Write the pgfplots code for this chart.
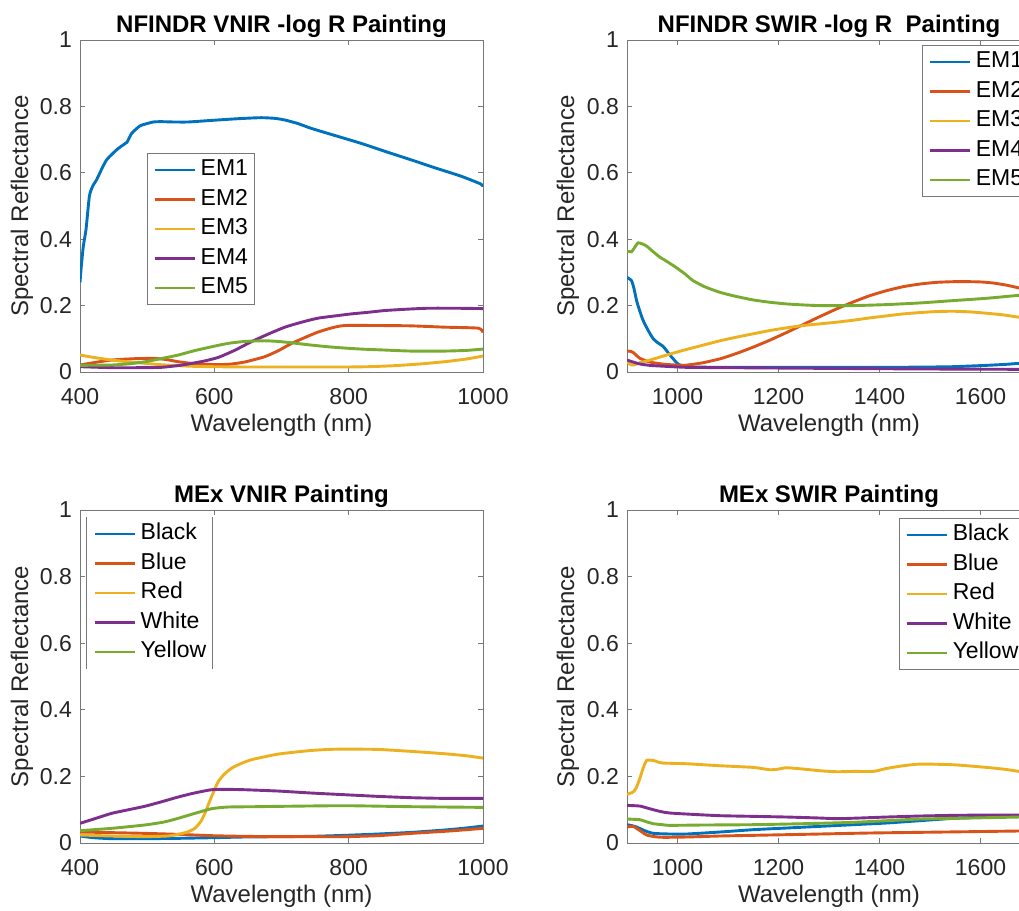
\documentclass[border=0pt]{standalone}
\usepackage{fontspec}
\setmainfont{Liberation Sans}
\usepackage{pgfplots}
\pgfplotsset{compat=1.18}
\definecolor{mB}{RGB}{0,114,189}
\definecolor{mO}{RGB}{217,83,25}
\definecolor{mY}{RGB}{237,177,32}
\definecolor{mP}{RGB}{126,47,142}
\definecolor{mG}{RGB}{119,172,48}
\definecolor{axgray}{RGB}{120,120,120}
\definecolor{txgray}{RGB}{38,38,38}
\pgfplotsset{
  matstyle/.style={
    scale only axis, height=332pt, anchor=south west,
    ymin=0, ymax=1, ytick={0,0.2,0.4,0.6,0.8,1}, yticklabels={0,0.2,0.4,0.6,0.8,1},
    axis line style={axgray, line width=0.9pt},
    tick style={axgray, line width=0.9pt},
    major tick length=5pt, tick align=inside,
    ticklabel style={font=\fontsize{23}{27}\selectfont, text=txgray},
    xticklabel style={anchor=north, inner sep=0pt, yshift=-16pt},
    yticklabel style={anchor=east, inner sep=0pt, xshift=-8pt},
    xlabel={Wavelength (nm)}, ylabel={Spectral Reflectance},
    label style={font=\fontsize{24}{28}\selectfont, text=txgray},
    xlabel style={at={(axis description cs:0.5,-0.16)}, anchor=center, inner sep=0pt},
    title style={at={(axis description cs:0.5,1)}, anchor=base, yshift=1pt, inner sep=0pt, font=\bfseries\fontsize{24}{28}\selectfont},
    every axis plot/.append style={line width=2.9pt, smooth, tension=0.35},
    legend cell align=left,
    legend image code/.code={\draw[##1, line width=2.4pt] (0pt,0pt) -- (40pt,0pt);},
    legend style={draw=axgray, line width=0.9pt, fill=white, font=\fontsize{23}{27}\selectfont, text=black,
      inner xsep=6pt, inner ysep=5.5pt, row sep=7.5pt, anchor=north west,
      nodes={inner sep=0pt, text height=17pt, text depth=5pt},
      /tikz/every odd column/.append style={column sep=5pt}},
  },
  vnir/.style={matstyle, width=403pt, xmin=400, xmax=1000, xtick={400,600,800,1000}, xticklabels={400,600,800,1000},
    ylabel style={at={(axis description cs:-0.144,0.5)}, anchor=center, inner sep=0pt}},
  swir/.style={matstyle, width=404pt, xmin=900, xmax=1700, xtick={1000,1200,1400,1600}, xticklabels={1000,1200,1400,1600},
    ylabel style={at={(axis description cs:-0.146,0.5)}, anchor=center, inner sep=0pt}},
}
\begin{document}
\begin{tikzpicture}
\path[fill=white] (0,0) rectangle (1019pt,910pt);
\begin{pgfinterruptboundingbox}
% ---------------- top left
\begin{axis}[vnir, at={(80pt,538pt)}, title={NFINDR VNIR -log R Painting},
  legend style={at={(axis description cs:0.166,0.66)}}]
\addplot[mB] coordinates {(400,0.27)(402,0.32)(405,0.38)(409,0.43)(414,0.53)(419,0.56)(425,0.58)(432,0.61)(440,0.64)(455,0.67)(465,0.685)(470,0.692)(477,0.719)(489,0.741)(496,0.746)(509,0.753)(521,0.754)(540,0.753)(561,0.753)(590,0.757)(620,0.761)(645,0.764)(670,0.766)(690,0.764)(705,0.759)(725,0.748)(744,0.734)(780,0.712)(818,0.689)(855,0.664)(893,0.639)(930,0.614)(967,0.59)(997,0.566)(1000,0.558)};
\addplot[mO] coordinates {(400,0.021)(420,0.028)(447,0.036)(480,0.04)(511,0.041)(530,0.037)(546,0.031)(566,0.026)(586,0.023)(620,0.023)(645,0.03)(675,0.046)(695,0.064)(715,0.086)(735,0.104)(754,0.12)(775,0.133)(794,0.14)(844,0.14)(893,0.139)(943,0.135)(993,0.132)(1000,0.119)};
\addplot[mY] coordinates {(400,0.051)(420,0.044)(447,0.036)(470,0.031)(497,0.026)(520,0.022)(546,0.019)(570,0.017)(596,0.016)(650,0.015)(695,0.015)(750,0.015)(794,0.015)(830,0.016)(868,0.019)(905,0.024)(943,0.031)(975,0.039)(1000,0.048)};
\addplot[mP] coordinates {(400,0.016)(447,0.013)(490,0.013)(521,0.014)(545,0.019)(561,0.024)(585,0.033)(606,0.044)(630,0.065)(655,0.091)(680,0.114)(705,0.135)(730,0.15)(754,0.162)(780,0.169)(804,0.175)(830,0.18)(853,0.185)(885,0.189)(918,0.192)(960,0.192)(1000,0.191)};
\addplot[mG] coordinates {(400,0.02)(447,0.021)(475,0.025)(497,0.031)(520,0.04)(546,0.051)(570,0.064)(596,0.076)(620,0.086)(645,0.092)(675,0.094)(695,0.092)(715,0.088)(740,0.082)(769,0.076)(795,0.072)(819,0.069)(855,0.066)(893,0.063)(943,0.063)(975,0.065)(1000,0.069)};
\legend{EM1,EM2,EM3,EM4,EM5}
\end{axis}
% ---------------- top right
\begin{axis}[swir, at={(627pt,538pt)}, title={NFINDR SWIR -log R\ \ Painting},
  legend style={at={(axis description cs:0.730,0.985)}}]
\addplot[mB] coordinates {(900,0.285)(909,0.275)(914,0.25)(919,0.215)(925,0.185)(932,0.155)(942,0.125)(952,0.1)(961,0.088)(971,0.078)(978,0.065)(985,0.051)(993,0.037)(1001,0.024)(1018,0.016)(1080,0.014)(1150,0.014)(1300,0.014)(1414,0.014)(1500,0.015)(1546,0.016)(1580,0.018)(1612,0.02)(1650,0.023)(1676,0.026)(1700,0.028)};
\addplot[mO] coordinates {(900,0.063)(908,0.062)(913,0.058)(920,0.048)(926,0.041)(940,0.032)(952,0.028)(970,0.024)(985,0.022)(1011,0.02)(1030,0.023)(1051,0.028)(1085,0.04)(1117,0.056)(1150,0.075)(1183,0.096)(1216,0.119)(1249,0.143)(1282,0.167)(1315,0.19)(1348,0.211)(1381,0.23)(1414,0.245)(1447,0.257)(1480,0.265)(1513,0.27)(1546,0.272)(1579,0.272)(1603,0.271)(1625,0.268)(1650,0.262)(1676,0.253)(1700,0.24)};
\addplot[mY] coordinates {(900,0.031)(904,0.025)(909,0.021)(915,0.022)(926,0.028)(950,0.038)(985,0.054)(1018,0.068)(1051,0.081)(1084,0.094)(1117,0.105)(1150,0.115)(1183,0.125)(1216,0.133)(1249,0.14)(1282,0.145)(1315,0.15)(1348,0.156)(1381,0.163)(1414,0.169)(1447,0.175)(1480,0.179)(1513,0.182)(1546,0.183)(1580,0.181)(1612,0.177)(1645,0.172)(1676,0.165)(1700,0.16)};
\addplot[mP] coordinates {(900,0.036)(912,0.03)(926,0.024)(945,0.02)(965,0.018)(1018,0.014)(1100,0.013)(1282,0.011)(1500,0.009)(1676,0.008)(1700,0.008)};
\addplot[mG] coordinates {(900,0.364)(909,0.362)(915,0.375)(922,0.389)(930,0.386)(939,0.379)(952,0.362)(965,0.346)(980,0.332)(998,0.314)(1015,0.295)(1031,0.275)(1055,0.256)(1084,0.24)(1115,0.228)(1150,0.217)(1183,0.21)(1216,0.205)(1249,0.202)(1282,0.2)(1348,0.2)(1414,0.203)(1480,0.208)(1546,0.215)(1612,0.222)(1676,0.231)(1700,0.234)};
\legend{EM1,EM2,EM3,EM4,EM5}
\end{axis}
% ---------------- bottom left
\begin{axis}[vnir, at={(80pt,67pt)}, height=333pt, title={MEx VNIR Painting},
  legend style={at={(axis description cs:0.017,0.979)}, draw=none, name=legBL}]
\addplot[mB] coordinates {(400,0.021)(420,0.016)(447,0.013)(500,0.013)(546,0.014)(600,0.016)(645,0.018)(700,0.019)(745,0.02)(794,0.023)(844,0.027)(894,0.032)(943,0.039)(975,0.045)(1000,0.051)};
\addplot[mO] coordinates {(400,0.033)(450,0.031)(496,0.029)(546,0.026)(596,0.022)(645,0.02)(695,0.019)(745,0.019)(794,0.019)(844,0.022)(894,0.029)(950,0.036)(1000,0.044)};
\addplot[mY] coordinates {(400,0.024)(447,0.021)(496,0.019)(530,0.021)(546,0.026)(560,0.033)(571,0.044)(580,0.065)(586,0.089)(591,0.115)(596,0.14)(601,0.163)(606,0.185)(615,0.207)(626,0.225)(640,0.239)(655,0.25)(675,0.259)(695,0.267)(720,0.273)(745,0.278)(770,0.281)(794,0.282)(844,0.281)(894,0.275)(943,0.268)(975,0.262)(1000,0.255)};
\addplot[mP] coordinates {(400,0.059)(425,0.075)(447,0.089)(470,0.099)(496,0.11)(520,0.123)(546,0.138)(570,0.15)(596,0.16)(620,0.161)(645,0.16)(695,0.156)(745,0.15)(794,0.145)(844,0.14)(894,0.136)(943,0.134)(1000,0.134)};
\addplot[mG] coordinates {(400,0.037)(447,0.044)(496,0.054)(525,0.063)(546,0.074)(571,0.089)(596,0.103)(620,0.108)(660,0.109)(695,0.11)(794,0.112)(894,0.109)(1000,0.107)};
\legend{Black,Blue,Red,White,Yellow}
\end{axis}
\draw[axgray, line width=0.9pt] (legBL.north west) -- (legBL.south west) (legBL.north east) -- (legBL.south east);
% ---------------- bottom right
\begin{axis}[swir, at={(627pt,67pt)}, height=333pt, title={MEx SWIR Painting},
  legend style={at={(axis description cs:0.673,0.976)}}]
\addplot[mB] coordinates {(900,0.055)(910,0.052)(919,0.048)(935,0.037)(952,0.029)(985,0.027)(1018,0.027)(1084,0.033)(1150,0.04)(1216,0.045)(1282,0.05)(1348,0.055)(1414,0.06)(1480,0.067)(1546,0.074)(1612,0.078)(1676,0.08)(1700,0.081)};
\addplot[mO] coordinates {(900,0.048)(912,0.05)(925,0.038)(939,0.024)(955,0.019)(972,0.017)(1018,0.018)(1084,0.021)(1183,0.024)(1282,0.027)(1380,0.03)(1480,0.032)(1580,0.034)(1676,0.036)(1700,0.036)};
\addplot[mY] coordinates {(900,0.146)(912,0.153)(918,0.165)(925,0.192)(932,0.225)(939,0.248)(952,0.248)(962,0.243)(972,0.24)(1018,0.238)(1084,0.232)(1150,0.227)(1183,0.22)(1200,0.222)(1216,0.226)(1249,0.222)(1282,0.217)(1315,0.214)(1350,0.215)(1388,0.215)(1414,0.224)(1447,0.232)(1480,0.237)(1546,0.235)(1612,0.227)(1650,0.221)(1676,0.215)(1700,0.21)};
\addplot[mP] coordinates {(900,0.113)(925,0.111)(940,0.105)(952,0.1)(968,0.094)(985,0.09)(1030,0.086)(1084,0.082)(1150,0.08)(1216,0.078)(1282,0.075)(1315,0.073)(1360,0.075)(1414,0.078)(1480,0.081)(1546,0.083)(1612,0.084)(1676,0.084)(1700,0.084)};
\addplot[mG] coordinates {(900,0.072)(925,0.07)(940,0.063)(952,0.058)(970,0.055)(985,0.053)(1050,0.054)(1150,0.055)(1250,0.058)(1348,0.062)(1414,0.067)(1480,0.072)(1580,0.075)(1676,0.078)(1700,0.079)};
\legend{Black,Blue,Red,White,Yellow}
\end{axis}
\end{pgfinterruptboundingbox}
\end{tikzpicture}
\end{document}
